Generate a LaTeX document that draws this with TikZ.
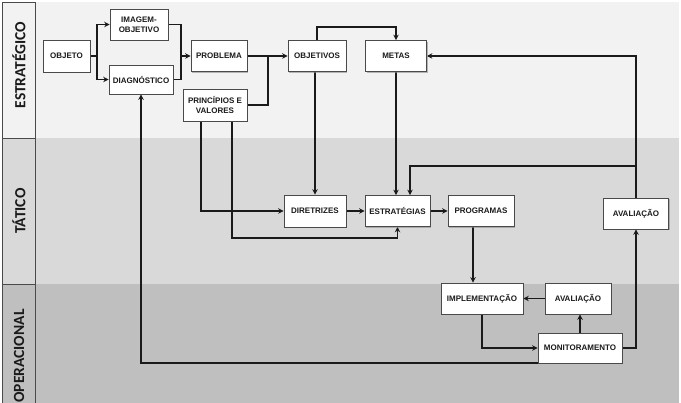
\documentclass[tikz,border=0pt]{standalone}
\usepackage{fontspec}
\setmainfont{Liberation Sans}
\newfontfamily\labfont{Carlito}
\usetikzlibrary{arrows.meta,shadows}
\pgfdeclarelayer{back}
\pgfdeclarelayer{mid}
\pgfsetlayers{back,mid,main}
\definecolor{bandA}{HTML}{F2F2F2}
\definecolor{bandB}{HTML}{D9D9D9}
\definecolor{bandC}{HTML}{BFBFBF}
\definecolor{ink}{HTML}{1A1A1A}
\definecolor{edge}{HTML}{4A4A4A}
\tikzset{
  box/.style={draw=edge, line width=0.6pt, fill=white, inner sep=1pt,
    font=\bfseries\fontsize{8}{9.5}\selectfont, align=center, text=ink,
    drop shadow={shadow xshift=1.2pt, shadow yshift=-1.2pt, fill=black!45, opacity=0.6}},
  arr/.style={draw=ink, line width=1.7pt, -{Stealth[length=5.5pt,width=5.5pt]}},
  ln/.style={draw=ink, line width=1.7pt},
  lab/.style={font=\labfont\bfseries\fontsize{15.5}{15.5}\selectfont, rotate=90, text=ink}
}
\begin{document}
\begin{tikzpicture}[x=1pt,y=-1pt]
\useasboundingbox (0,0) rectangle (681,403);
\begin{pgfonlayer}{back}
  \fill[white] (0,0) rectangle (681,403);
  \fill[bandA] (2,2) rectangle (679,138);
  \fill[bandB] (2,138) rectangle (679,284);
  \fill[bandC] (2,284) rectangle (679,403);
  \draw[edge, line width=0.8pt] (2,405) -- (2,2) -- (35,2) -- (35,405);
  \draw[edge, line width=0.8pt] (2,138) -- (35,138);
  \draw[edge, line width=0.8pt] (2,284) -- (35,284);
\end{pgfonlayer}
\node[lab] (lA) at (19,65) {ESTRATÉGICO};
\node[lab] (lB) at (19,211) {TÁTICO};
\node[lab] (lC) at (19,356) {OPERACIONAL};

\node[box, minimum width=47pt, minimum height=32pt] (obj) at (66.5,56) {OBJETO};
\node[box, minimum width=58pt, minimum height=31pt] (img) at (139,24.5) {IMAGEM-\\OBJETIVO};
\node[box, minimum width=64pt, minimum height=29pt] (diag) at (141,79.5) {DIAGNÓSTICO};
\node[box, minimum width=56pt, minimum height=31pt] (prob) at (219,56) {PROBLEMA};
\node[box, minimum width=64pt, minimum height=32pt] (princ) at (215,105) {PRINCÍPIOS E\\VALORES};
\node[box, minimum width=58pt, minimum height=31pt] (objv) at (317,56) {OBJETIVOS};
\node[box, minimum width=61pt, minimum height=31pt] (metas) at (396,56) {METAS};
\node[box, minimum width=62pt, minimum height=32pt] (dir) at (315,211) {DIRETRIZES};
\node[box, minimum width=65pt, minimum height=31pt] (estr) at (397.5,211) {ESTRATÉGIAS};
\node[box, minimum width=66pt, minimum height=31pt] (prog) at (481,211) {PROGRAMAS};
\node[box, minimum width=65pt, minimum height=31pt] (avt) at (636,213.5) {AVALIAÇÃO};
\node[box, minimum width=82pt, minimum height=31pt] (impl) at (482,298.5) {IMPLEMENTAÇÃO};
\node[box, minimum width=66pt, minimum height=31pt] (avo) at (578,298.5) {AVALIAÇÃO};
\node[box, minimum width=84pt, minimum height=30pt] (mon) at (580,348) {MONITORAMENTO};

\coordinate (j1) at (97,56);
\coordinate (j2) at (181,56);
\coordinate (j3) at (268,56);
\coordinate (b1) at (636,166);
\coordinate (b2) at (410,166);

\begin{pgfonlayer}{mid}
  \draw[ln] (obj.east) -- (j1);
  \draw[arr] (j1) |- (img.west);
  \draw[arr] (j1) |- (diag.west);
  \draw[ln] (img.east) -| (j2);
  \draw[ln] (diag.east) -| (j2);
  \draw[arr] (j2) -- (prob.west);
  \draw[arr] (prob.east) -- (objv.west);
  \draw[ln] (princ.east) -| (j3);
  \draw[arr] (objv.north) -- ++(0,-13) -| (metas.north);
  \draw[arr] (objv.south -| dir.north) -- (dir.north);
  \draw[arr] (metas.south) -- (metas.south |- estr.north);
  \draw[arr] (avt.north) |- (metas.east);
  \draw[arr] (b1) -- (b2) -- (b2 |- estr.north);
  \draw[arr] (dir.east) -- (estr.west);
  \draw[arr] (estr.east) -- (prog.west);
  \draw[arr] ([xshift=-14pt]princ.south) |- (dir.west);
  \draw[arr] ([xshift=17pt]princ.south) |- ([yshift=-11pt]estr.south) -- (estr.south);
  \draw[arr] ([xshift=-8pt]prog.south) -- ([xshift=-8pt]prog.south |- impl.north);
  \draw[arr] (avo.west) -- (impl.east);
  \draw[arr] (mon.north) -- (mon.north |- avo.south);
  \draw[arr] (impl.south) |- (mon.west);
  \draw[arr] (mon.east) -| (avt.south);
  \draw[arr] ([yshift=0.5pt]mon.south west) -| (diag.south);
\end{pgfonlayer}
\end{tikzpicture}
\end{document}
